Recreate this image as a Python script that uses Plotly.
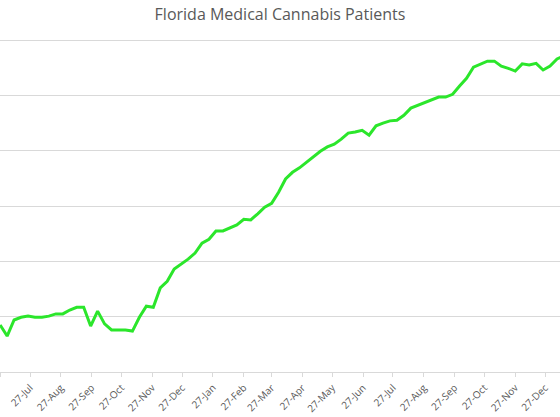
import pandas as pd
import plotly.graph_objects as go

# weekly counts (thousands)
start_date = "2018-06-27"
patients = [85, 65, 94, 99, 101, 99, 99, 101, 105, 105,
            112, 117, 117, 83, 110, 87, 76, 76, 76, 74,
            99, 119, 117, 152, 164, 186, 195, 204, 215, 233,
            240, 255, 255, 260, 266, 276, 275, 286, 298, 305,
            325, 349, 361, 369, 379, 388, 399, 407, 412, 421,
            432, 434, 437, 428, 445, 450, 454, 455, 464, 477,
            482, 488, 492, 497, 497, 502, 517, 531, 551, 557,
            562, 562, 553, 549, 544, 557, 555, 558, 546, 553,
            566, 571]
weeks = pd.date_range(start_date, periods=len(patients), freq="7D")

# axis ticks on the 27th of each month
tick_dates = ["2018-06-27", "2018-07-27", "2018-08-27", "2018-09-27",
              "2018-10-27", "2018-11-27", "2018-12-27", "2019-01-27",
              "2019-02-27", "2019-03-27", "2019-04-27", "2019-05-27",
              "2019-06-27", "2019-07-27", "2019-08-27", "2019-09-27",
              "2019-10-27", "2019-11-27", "2019-12-27", "2020-01-27"]
tick_labels = ["27-Jun", "27-Jul", "27-Aug", "27-Sep", "27-Oct", "27-Nov",
               "27-Dec", "27-Jan", "27-Feb", "27-Mar", "27-Apr", "27-May",
               "27-Jun", "27-Jul", "27-Aug", "27-Sep", "27-Oct", "27-Nov",
               "27-Dec", "27-Jan"]

fig = go.Figure()
fig.add_trace(
    go.Scatter(
        x=weeks,
        y=patients,
        mode="lines",
        line=dict(color="#2BE62B", width=3),
    )
)

fig.update_layout(
    width=560,
    height=417,
    margin=dict(l=0, r=0, t=39, b=45),
    paper_bgcolor="white",
    plot_bgcolor="white",
    showlegend=False,
    title=dict(
        text="Florida Medical Cannabis Patients",
        x=0.5,
        xanchor="center",
        y=0.965,
        yanchor="middle",
        font=dict(family="Open Sans", size=16, color="#595959"),
    ),
    xaxis=dict(
        range=["2018-06-26 20:00", "2020-01-11"],
        tickvals=tick_dates,
        ticktext=tick_labels,
        tickangle=-45,
        ticks="outside",
        ticklen=4,
        tickcolor="#d9d9d9",
        ticklabelstandoff=1,
        showline=True,
        linecolor="#d9d9d9",
        showgrid=False,
        automargin=False,
        tickfont=dict(family="Open Sans", size=10, color="#595959"),
    ),
    yaxis=dict(
        range=[0, 602],
        tickvals=[100, 200, 300, 400, 500, 600],
        showgrid=True,
        gridcolor="#d9d9d9",
        showticklabels=False,
        zeroline=False,
        automargin=False,
    ),
)

fig.write_html(
    "out.html",
    config={"displayModeBar": False},
    post_script="document.body.style.margin='0';",
)
